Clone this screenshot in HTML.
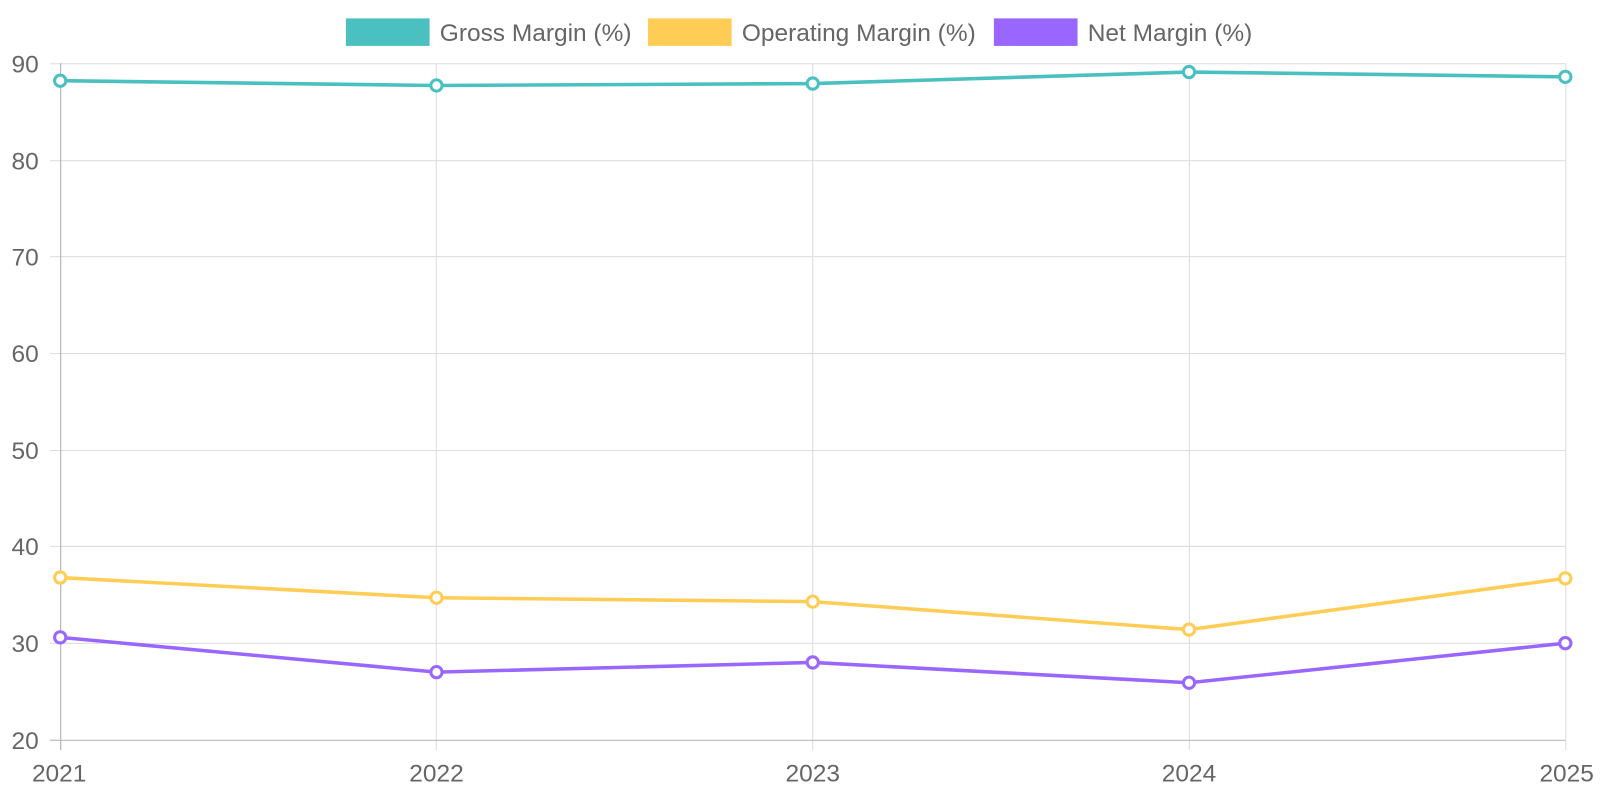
<!DOCTYPE html>
<html><head><meta charset="utf-8"><style>
html,body{margin:0;padding:0;background:#fff;}
svg{display:block;font-family:"Liberation Sans",Arial,sans-serif;}
</style></head><body>
<svg width="1600" height="800" viewBox="0 0 1568 784">
<g stroke="#dcdcdc" stroke-width="1">
<line x1="59" y1="62.5" x2="1534" y2="62.5"/>
<line x1="59" y1="157.5" x2="1534" y2="157.5"/>
<line x1="59" y1="251.5" x2="1534" y2="251.5"/>
<line x1="59" y1="346.5" x2="1534" y2="346.5"/>
<line x1="59" y1="441.5" x2="1534" y2="441.5"/>
<line x1="59" y1="535.5" x2="1534" y2="535.5"/>
<line x1="59" y1="630.5" x2="1534" y2="630.5"/>
<line x1="427.5" y1="62" x2="427.5" y2="735"/>
<line x1="796.5" y1="62" x2="796.5" y2="735"/>
<line x1="1165.5" y1="62" x2="1165.5" y2="735"/>
<line x1="1534.5" y1="62" x2="1534.5" y2="735"/>
</g>
<g stroke="#dcdcdc"><line x1="49" y1="62.5" x2="59" y2="62.5"/><line x1="49" y1="157.5" x2="59" y2="157.5"/><line x1="49" y1="251.5" x2="59" y2="251.5"/><line x1="49" y1="346.5" x2="59" y2="346.5"/><line x1="49" y1="441.5" x2="59" y2="441.5"/><line x1="49" y1="535.5" x2="59" y2="535.5"/><line x1="49" y1="630.5" x2="59" y2="630.5"/><line x1="49" y1="725.5" x2="59" y2="725.5"/></g>
<line x1="59.5" y1="62" x2="59.5" y2="735" stroke="#aaa"/>
<line x1="49" y1="725.5" x2="1534" y2="725.5" stroke="#bbb"/>
<g fill="#666" font-size="24" text-anchor="end">
<text x="38" y="71">90</text><text x="38" y="166">80</text><text x="38" y="260">70</text><text x="38" y="355">60</text><text x="38" y="450">50</text><text x="38" y="544">40</text><text x="38" y="639">30</text><text x="38" y="734">20</text>
</g>
<g fill="#666" font-size="24" text-anchor="middle">
<text x="58" y="766">2021</text><text x="427.75" y="766">2022</text><text x="796.5" y="766">2023</text><text x="1165.25" y="766">2024</text>
</g>
<text x="1562" y="766" fill="#666" font-size="24" text-anchor="end">2025</text>
<g fill="none" stroke-width="3.5">
<polyline stroke="#4bc0c0" points="59,79.1 427.75,83.8 796.5,81.9 1165.25,70.6 1534,75.3"/>
<polyline stroke="#ffcd56" points="59,566 427.75,585.8 796.5,589.6 1165.25,617 1534,566.8"/>
<polyline stroke="#9966ff" points="59,624.6 427.75,658.7 796.5,649.2 1165.25,669.1 1534,630.3"/>
</g>
<g fill="#fff" stroke-width="3">
<g stroke="#4bc0c0"><circle cx="59" cy="79.1" r="5.5"/><circle cx="427.75" cy="83.8" r="5.5"/><circle cx="796.5" cy="81.9" r="5.5"/><circle cx="1165.25" cy="70.6" r="5.5"/><circle cx="1534" cy="75.3" r="5.5"/></g>
<g stroke="#ffcd56"><circle cx="59" cy="566" r="5.5"/><circle cx="427.75" cy="585.8" r="5.5"/><circle cx="796.5" cy="589.6" r="5.5"/><circle cx="1165.25" cy="617" r="5.5"/><circle cx="1534" cy="566.8" r="5.5"/></g>
<g stroke="#9966ff"><circle cx="59" cy="624.6" r="5.5"/><circle cx="427.75" cy="658.7" r="5.5"/><circle cx="796.5" cy="649.2" r="5.5"/><circle cx="1165.25" cy="669.1" r="5.5"/><circle cx="1534" cy="630.3" r="5.5"/></g>
</g>
<rect x="339" y="18" width="82" height="27" fill="#4bc0c0"/>
<rect x="635" y="18" width="82" height="27" fill="#ffcd56"/>
<rect x="974" y="18" width="82" height="27" fill="#9966ff"/>
<g fill="#666" font-size="24">
<text x="431" y="40">Gross Margin (%)</text>
<text x="727" y="40">Operating Margin (%)</text>
<text x="1066" y="40">Net Margin (%)</text>
</g>
</svg>
</body></html>
